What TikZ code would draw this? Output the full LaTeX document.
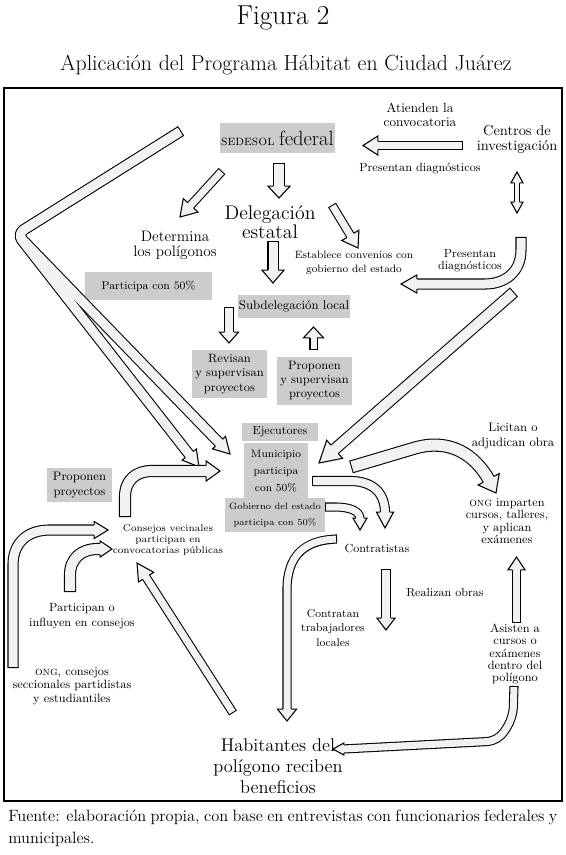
\documentclass[tikz,border=0pt]{standalone}
\usetikzlibrary{calc}
\definecolor{boxgray}{RGB}{204,204,204}
\definecolor{afill}{RGB}{242,242,242}
\newlength\olw \setlength\olw{0.8pt}
\newcommand\fsz[2]{\fontsize{#1}{#2}\selectfont}
\newcommand\arrshaftout[2]{\pgfmathsetlengthmacro\tmpw{#1*0.75pt+2*\olw}\draw[line width=\tmpw,black,line join=round] #2;}
\newcommand\arrshaftin[2]{\pgfmathsetlengthmacro\tmpw{#1*0.75pt}\draw[line width=\tmpw,afill,line join=round,shorten <=\olw] #2;}
\newcommand\arrhead[4]{%
 \pgfmathsetlengthmacro\tmpa{#1*0.375pt+0.5*\olw}%
 \pgfmathsetlengthmacro\tmpb{#2*0.75pt}%
 \coordinate (hb) at ($(#3)!-0.6pt!(#4)$);
 \filldraw[fill=afill,draw=black,line width=\olw,line join=miter]
  ($(hb)!\tmpa!90:(#4)$) -- ($(hb)!\tmpb!90:(#4)$) -- (#4) -- ($(hb)!\tmpb!-90:(#4)$) -- ($(hb)!\tmpa!-90:(#4)$);}
\newcommand\barrow[5]{\arrshaftout{#1}{#3}\arrshaftin{#1}{#3}\arrhead{#1}{#2}{#4}{#5}}
\begin{document}
\begin{tikzpicture}[x=0.75pt,y=-0.75pt,
  every node/.style={inner sep=0pt, align=center},
  gbox/.style={fill=boxgray, inner sep=0pt, align=center}]
\useasboundingbox (0,0) rectangle (566,855);
\fill[white] (0,0) rectangle (566,855);
\draw[line width=1.2pt] (4,88) rectangle (562,801);

% texts
\node[font=\fsz{20.5}{22}] (fig) at (283,18) {Figura 2};
\node[font=\fsz{16.4}{18}] (title) at (286,65) {Aplicación del Programa Hábitat en Ciudad Juárez};
\node[gbox, minimum width=86.25pt, minimum height=22.5pt] (sedesol) at (277.5,138) {\fsz{10.5}{11}\textsc{sedesol} \fsz{15.4}{16}federal};
\node[font=\fsz{9.9}{10.5}] (atienden) at (420,115) {Atienden la\\convocatoria};
\node[font=\fsz{10.8}{11.2}] (centros) at (517,139) {Centros de\\investigación};
\node[font=\fsz{8.9}{10}] (presA) at (420,169) {Presentan diagnósticos};
\node[font=\fsz{14.8}{14.3}] (deleg) at (270,222) {Delegación\\estatal};
\node[font=\fsz{11.4}{11.3}] (determ) at (175,245) {Determina\\los polígonos};
\node[font=\fsz{8}{10.5}] (establece) at (354,263) {Establece convenios con\\gobierno del estado};
\node[font=\fsz{8.8}{9.2}] (presB) at (470,261) {Presentan\\diagnósticos};
\node[gbox, minimum width=95.25pt, minimum height=21pt, font=\fsz{8.55}{10}] (part50) at (148.5,286) {Participa con 50\%};
\node[gbox, minimum width=84pt, minimum height=17.25pt, font=\fsz{9.4}{10}] (subdel) at (294,306.5) {Subdelegación local};
\node[gbox, minimum width=56.25pt, minimum height=36pt, font=\fsz{9.1}{10.9}] (revisan) at (229.5,374) {Revisan\\y supervisan\\proyectos};
\node[gbox, minimum width=56.25pt, minimum height=36pt, font=\fsz{9.1}{10.5}] (proponenB) at (314.5,381) {Proponen\\y supervisan\\proyectos};
\node[gbox, minimum width=57pt, minimum height=13.5pt, font=\fsz{8.8}{10}] (ejec) at (280,432) {Ejecutores};
\node[gbox, minimum width=48pt, minimum height=42.75pt, font=\fsz{8.1}{12.75}] (munic) at (276,471.5) {Municipio\\participa\\con 50\%};
\node[gbox, minimum width=75pt, minimum height=25.5pt, font=\fsz{6.9}{12}] (gobest) at (275,515) {Gobierno del estado\\participa con 50\%};
\node[gbox, minimum width=48.75pt, minimum height=25.5pt, font=\fsz{9.2}{11.25}] (propA) at (79.5,485) {Proponen\\proyectos};
\node[font=\fsz{7.4}{8.3}] (consejos) at (168,540) {Consejos vecinales\\participan en\\convocatorias públicas};
\node[font=\fsz{8.8}{10}] (contratistas) at (377,548) {Contratistas};
\node[font=\fsz{9.2}{11.25}] (licitan) at (513,436) {Licitan o\\adjudican obra};
\node[font=\fsz{9}{9.3}] (ongA) at (507,521) {\textsc{ong} imparten\\cursos, talleres,\\y aplican\\exámenes};
\node[font=\fsz{8.9}{11.25}] (particip) at (82,616) {Participan o\\influyen en consejos};
\node[font=\fsz{9}{10}] (ongB) at (72,686) {\textsc{ong}, consejos\\seccionales partidistas\\y estudiantiles};
\node[font=\fsz{8.8}{10}] (realizan) at (445,593) {Realizan obras};
\node[font=\fsz{8.5}{10.9}] (contratan) at (333,628) {Contratan\\trabajadores\\locales};
\node[font=\fsz{9}{9.1}] (asisten) at (515,654) {Asisten a\\cursos o\\exámenes\\dentro del\\polígono};
\node[font=\fsz{13.8}{15.75}] (habit) at (278,766) {Habitantes del\\polígono reciben\\beneficios};
\node[anchor=base west, font=\fsz{12.3}{16.5}] (fuente1) at (8,821) {\makebox[411.75pt][s]{Fuente: elaboración propia, con base en entrevistas con funcionarios federales y}};
\node[anchor=base west, font=\fsz{12.3}{16.5}] (fuente2) at (8,843) {municipales.};

% A1 centros -> sedesol
\coordinate (a1t) at (463,145.5); \coordinate (a1b) at (377,145.5); \coordinate (a1h) at (363,145.5);
\barrow{7}{9.5}{(a1t) -- (a1b)}{a1b}{a1h}
% A2 double arrow
\coordinate (a2tt) at (517,172); \coordinate (a2bt) at (517,182);
\coordinate (a2bb) at (517,203); \coordinate (a2tb) at (517,213);
\arrshaftout{4}{(a2bt) -- (a2bb)}
\draw[line width=3pt, afill] (a2bt) -- (a2bb);
\arrhead{4}{6}{a2bt}{a2tt}\arrhead{4}{6}{a2bb}{a2tb}
% A3 sedesol -> delegacion
\coordinate (a3t) at (279,163); \coordinate (a3b) at (279,187); \coordinate (a3h) at (279,198);
\barrow{10}{11}{(a3t) -- (a3b)}{a3b}{a3h}
% A4 sedesol -> determina
\coordinate (a4t) at (222,171); \coordinate (a4h) at (180,217); \coordinate (a4b) at ($(a4h)!11.25pt!(a4t)$);
\barrow{7}{10}{(a4t) -- (a4b)}{a4b}{a4h}
% A5 delegacion -> subdelegacion
\coordinate (a5t) at (273,241); \coordinate (a5b) at (273,271); \coordinate (a5h) at (273,283);
\barrow{9}{11}{(a5t) -- (a5b)}{a5b}{a5h}
% A6 delegacion -> establece
\coordinate (a6t) at (332,205); \coordinate (a6h) at (358,248); \coordinate (a6b) at ($(a6h)!10.5pt!(a6t)$);
\barrow{7}{10}{(a6t) -- (a6b)}{a6b}{a6h}
% A7 centros -> presentan (curved)
\coordinate (a7t) at (521,237); \coordinate (a7b) at (416,284); \coordinate (a7h) at (401,284);
\barrow{9}{9}{(a7t) -- (521,250) .. controls (521,272) and (505,284) .. (485,284) -- (a7b)}{a7b}{a7h}
% A8 subdelegacion -> revisan
\coordinate (a8t) at (229,307); \coordinate (a8b) at (229,333); \coordinate (a8h) at (229,343);
\barrow{8}{9.5}{(a8t) -- (a8b)}{a8b}{a8h}
% A9 proponen -> subdelegacion
\coordinate (a9t) at (313.5,350); \coordinate (a9b) at (313.5,337); \coordinate (a9h) at (313.5,327);
\barrow{6}{10}{(a9t) -- (a9b)}{a9b}{a9h}
% V arrows
\coordinate (vtop) at (181,131); \coordinate (vcor) at (17,234);
\coordinate (v1h) at (199,467); \coordinate (v1b) at ($(v1h)!11.25pt!(vcor)$);
\coordinate (v2h) at (230,454); \coordinate (v2b) at ($(v2h)!11.25pt!(vcor)$);
\arrshaftout{9}{[rounded corners=6pt] (vtop) -- (vcor) -- (v1b)}
\arrshaftout{9}{[rounded corners=6pt] (vtop) -- (vcor) -- (v2b)}
\arrshaftin{9}{[rounded corners=6pt] (vtop) -- (vcor) -- (v1b)}
\arrshaftin{9}{[rounded corners=6pt] (vtop) -- (vcor) -- (v2b)}
\arrhead{9}{9}{v1b}{v1h}\arrhead{9}{9}{v2b}{v2h}
% A12 proponen proyectos -> ejecutores
\coordinate (a12t) at (125,517); \coordinate (a12b) at (207,471); \coordinate (a12h) at (220,471);
\barrow{10}{10}{(a12t) -- (125,497) .. controls (125,480) and (136,471) .. (152,471) -- (a12b)}{a12b}{a12h}
% A13 ONG big -> consejos
\coordinate (a13t) at (13,668); \coordinate (a13b) at (95,530); \coordinate (a13h) at (108,530);
\barrow{9}{8.5}{(a13t) -- (13,565) .. controls (13,543) and (27,530) .. (50,530) -- (a13b)}{a13b}{a13h}
% A14 participan -> consejos
\coordinate (a14t) at (70,592); \coordinate (a14b) at (101,549); \coordinate (a14h) at (112,549);
\barrow{10}{8}{(a14t) -- (70,575) .. controls (70,558) and (82,549) .. (97,549) -- (a14b)}{a14b}{a14h}
% A15 habitantes -> consejos
\coordinate (a15t) at (233,713); \coordinate (a15h) at (137,563); \coordinate (a15b) at ($(a15h)!12pt!(a15t)$);
\barrow{7}{9}{(a15t) -- (a15b)}{a15b}{a15h}
% A16 contratistas -> habitantes
\coordinate (a16t) at (337,539); \coordinate (a16b) at (287,710); \coordinate (a16h) at (287,721);
\barrow{7}{9.5}{(a16t) .. controls (305,540) and (287,555) .. (287,590) -- (a16b)}{a16b}{a16h}
% A17 realizan obras
\coordinate (a17t) at (386,569); \coordinate (a17b) at (386,619); \coordinate (a17h) at (386,630);
\barrow{8}{9}{(a17t) -- (a17b)}{a17b}{a17h}
% A18 asisten -> ONG
\coordinate (a18t) at (516.5,623); \coordinate (a18b) at (516.5,569); \coordinate (a18h) at (516.5,557);
\barrow{7}{8.5}{(a18t) -- (a18b)}{a18b}{a18h}
% A19 bottom right curve
\coordinate (a19t) at (514,686); \coordinate (a19b) at (343,749); \coordinate (a19h) at (333,749);
\barrow{7}{6}{[rounded corners=8pt] (a19t) -- (513,718) -- (498,741) -- (a19b)}{a19b}{a19h}
% A20 centros -> ejecutores
\coordinate (a20t) at (514,292); \coordinate (a20h) at (319,463); \coordinate (a20b) at ($(a20h)!15pt!(a20t)$);
\barrow{10}{12}{(a20t) -- (a20b)}{a20b}{a20h}
% A21 municipio -> ONG
\coordinate (a21t) at (351,467); \coordinate (a21b) at (489,480); \coordinate (a21h) at (496,493);
\barrow{11}{12}{(a21t) -- (415,448) .. controls (450,438) and (475,455) .. (a21b)}{a21b}{a21h}
% A22 municipio -> contratistas
\coordinate (a22t) at (312,481); \coordinate (a22b) at (385,513); \coordinate (a22h) at (385,528);
\barrow{8}{8.5}{(a22t) -- (350,481) .. controls (372,481) and (385,492) .. (a22b)}{a22b}{a22h}
% A23 gobierno -> contratistas
\coordinate (a23t) at (325,507); \coordinate (a23b) at (360,519); \coordinate (a23h) at (360,530);
\barrow{7}{7}{(a23t) -- (335,507) .. controls (350,507) and (360,511) .. (a23b)}{a23b}{a23h}
\end{tikzpicture}
\end{document}
